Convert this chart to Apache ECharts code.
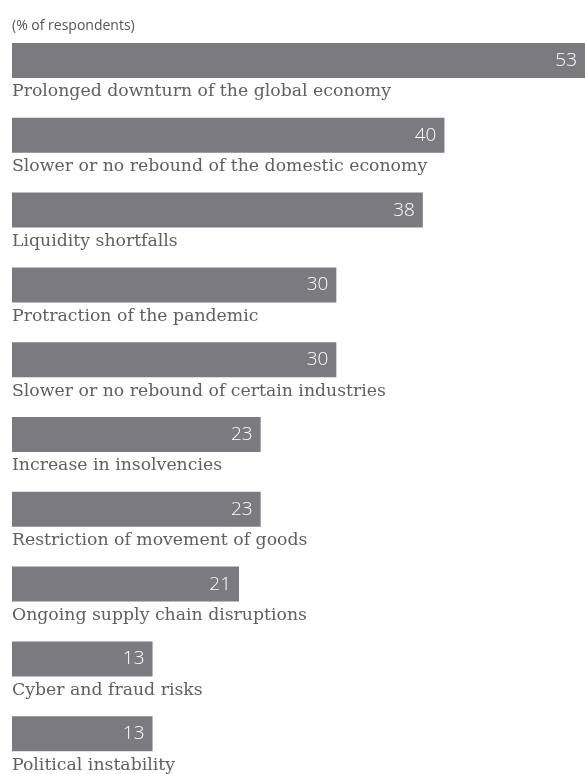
<!DOCTYPE html>
<html>
<head>
<meta charset="utf-8">
<script src="https://cdn.jsdelivr.net/npm/echarts@6/dist/echarts.min.js"></script>
<style>
    html, body { margin: 0; padding: 0; background: #ffffff; }
    #riskChart { width: 585px; height: 774px; }
</style>
</head>
<body>
<div id="riskChart"></div>
<script>
const categories = [
    'Prolonged downturn of the global economy',
    'Slower or no rebound of the domestic economy',
    'Liquidity shortfalls',
    'Protraction of the pandemic',
    'Slower or no rebound of certain industries',
    'Increase in insolvencies',
    'Restriction of movement of goods',
    'Ongoing supply chain disruptions',
    'Cyber and fraud risks',
    'Political instability'
];
const values = [53, 40, 38, 30, 30, 23, 23, 21, 13, 13];

function drawRiskChart() {
    const myChart = echarts.init(document.getElementById('riskChart'));
    const option = {
        backgroundColor: '#ffffff',
        animation: false,
        title: {
            text: '(% of respondents)',
            left: 7,
            top: 14,
            textStyle: {
                color: '#555555',
                fontFamily: 'Open Sans',
                fontSize: 14,
                fontWeight: 'normal'
            }
        },
        grid: {
            top: 23.1,
            left: 12,
            right: 0,
            height: 748
        },
        xAxis: {
            type: 'value',
            min: 0,
            max: 53,
            show: false
        },
        yAxis: {
            type: 'category',
            inverse: true,
            data: categories,
            axisLine: {show: false},
            axisTick: {show: false},
            axisLabel: {
                inside: true,
                margin: 0,
                align: 'left',
                verticalAlign: 'top',
                padding: [23, 0, 0, 0],
                color: '#606060',
                fontFamily: 'DejaVu Serif',
                fontSize: 17.3
            }
        },
        series: [
            {
                type: 'bar',
                data: values,
                barWidth: 35,
                itemStyle: {
                    color: '#7b7b7f'
                },
                label: {
                    show: true,
                    position: 'insideRight',
                    distance: 8,
                    color: '#ffffff',
                    fontFamily: 'Open Sans',
                    fontWeight: 300,
                    fontSize: 19
                }
            }
        ]
    };
    myChart.setOption(option);
    window.onresize = myChart.resize;
}

drawRiskChart();
</script>
</body>
</html>
